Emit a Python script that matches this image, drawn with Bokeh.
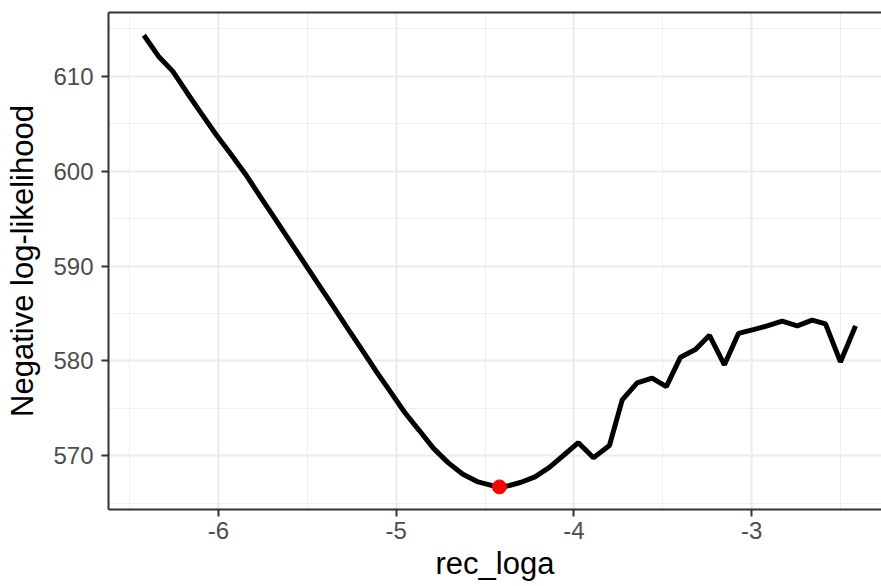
from bokeh.plotting import figure
from bokeh.models import Range1d, FixedTicker, LinearAxis
from bokeh.embed import file_html
from bokeh.resources import INLINE

# ---- data ----
rec_loga = [-6.420, -6.338, -6.257, -6.175, -6.094, -6.012, -5.931, -5.849, -5.768, -5.686,
            -5.605, -5.523, -5.442, -5.360, -5.279, -5.197, -5.116, -5.034, -4.953, -4.871,
            -4.790, -4.708, -4.627, -4.545, -4.464, -4.382, -4.301, -4.219, -4.138, -4.056,
            -3.975, -3.890, -3.800, -3.728, -3.644, -3.560, -3.480, -3.400, -3.316, -3.237,
            -3.153, -3.074, -2.990, -2.912, -2.828, -2.743, -2.659, -2.584, -2.500, -2.415]
neg_loglik = [614.3, 612.1, 610.5, 608.2, 606.0, 603.8, 601.8, 599.7, 597.4, 595.1,
              592.8, 590.5, 588.2, 585.9, 583.6, 581.3, 579.0, 576.8, 574.6, 572.7,
              570.8, 569.3, 568.1, 567.3, 566.9, 566.8, 567.2, 567.8, 568.8, 570.1,
              571.4, 569.8, 571.1, 575.9, 577.7, 578.2, 577.3, 580.4, 581.2, 582.7,
              579.6, 582.9, 583.3, 583.7, 584.2, 583.7, 584.3, 583.9, 579.9, 583.7]
best_x = [-4.419]
best_y = [566.74]

x_ticks = [-6, -5, -4, -3]
x_labels = ["-6", "-5", "-4", "-3"]
x_minor = [-6.5, -5.5, -4.5, -3.5, -2.5]
y_ticks = [570, 580, 590, 600, 610]
y_labels = ["570", "580", "590", "600", "610"]
y_minor = [565, 575, 585, 595, 605, 615]

FONT = "Liberation Sans"

p = figure(width=881, height=586, output_backend="svg", toolbar_location=None,
           x_range=Range1d(-6.619, -2.269), y_range=Range1d(564.36, 616.7),
           min_border_left=108, min_border_right=0, min_border_top=12, min_border_bottom=77,
           x_axis_label="rec_loga", y_axis_label="Negative log-likelihood")
p.outline_line_color = None
p.background_fill_color = "white"
p.border_fill_color = "white"

p.line(rec_loga, neg_loglik, line_color="black", line_width=5)
p.scatter(best_x, best_y, size=14, fill_color="#FF0000", line_color="#FF0000")

p.xaxis.ticker = FixedTicker(ticks=x_ticks, minor_ticks=x_minor)
p.yaxis.ticker = FixedTicker(ticks=y_ticks, minor_ticks=y_minor)
p.xaxis.major_label_overrides = dict(zip(x_ticks, x_labels))
p.yaxis.major_label_overrides = dict(zip(y_ticks, y_labels))

for g in (p.xgrid, p.ygrid):
    g.grid_line_color = "#EBEBEB"
    g.grid_line_width = 2
    g.minor_grid_line_color = "#EFEFEF"
    g.minor_grid_line_width = 1

for ax in (p.xaxis, p.yaxis):
    ax.axis_line_color = "#333333"
    ax.axis_line_width = 2
    ax.major_tick_line_color = "#333333"
    ax.major_tick_line_width = 2
    ax.major_tick_out = 7
    ax.major_tick_in = 0
    ax.minor_tick_line_color = None
    ax.major_label_text_font = FONT
    ax.major_label_text_font_size = "24px"
    ax.major_label_text_color = "#4D4D4D"
    ax.axis_label_text_font = FONT
    ax.axis_label_text_font_size = "31px"
    ax.axis_label_text_font_style = "normal"
    ax.axis_label_text_color = "black"

p.xaxis.major_label_standoff = 5
p.xaxis.axis_label_standoff = 4
p.yaxis.major_label_standoff = 8
p.yaxis.axis_label_standoff = 10

top = LinearAxis(ticker=FixedTicker(ticks=[]), axis_line_color="#333333", axis_line_width=2,
                 major_tick_line_color=None, minor_tick_line_color=None,
                 major_label_text_font_size="0px", major_tick_out=0, major_tick_in=0,
                 major_label_standoff=0)
p.add_layout(top, "above")

open("out.html", "w").write(file_html(p, INLINE))
